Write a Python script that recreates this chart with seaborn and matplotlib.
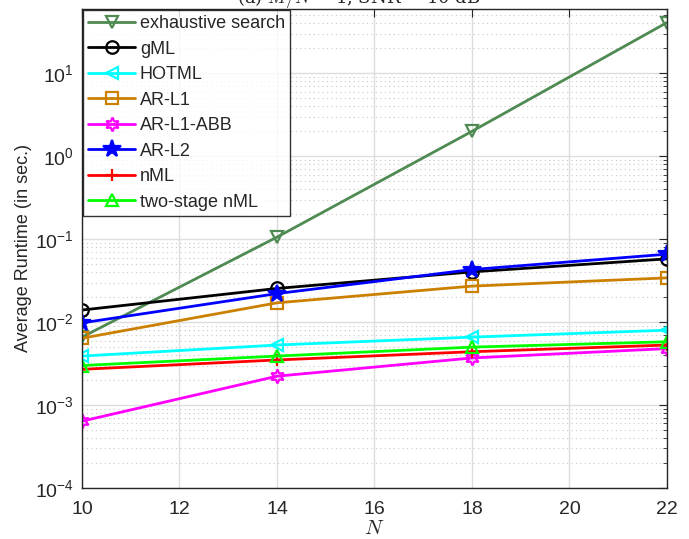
import numpy as np
import pandas as pd
import matplotlib
matplotlib.use('Agg')
import matplotlib.pyplot as plt
import seaborn as sns
from matplotlib.ticker import LogLocator, NullFormatter

n_values = [10, 14, 18, 22]

exhaustive = [0.0066, 0.106, 2.0, 41.0]
gml = [0.0140, 0.0255, 0.0404, 0.058]
hotml = [0.0039, 0.0053, 0.0066, 0.0080]
ar_l1 = [0.0064, 0.0171, 0.0272, 0.0342]
ar_l1_abb = [0.00064, 0.00223, 0.0037, 0.0048]
ar_l2 = [0.0098, 0.0221, 0.0431, 0.066]
nml = [0.0027, 0.0035, 0.0044, 0.0053]
two_stage = [0.0030, 0.0039, 0.0050, 0.0058]

series = [
    ('exhaustive search', exhaustive, '#4e8a52', 'v'),
    ('gML', gml, 'black', 'o'),
    ('HOTML', hotml, '#00ffff', '<'),
    ('AR-L1', ar_l1, '#cc8000', 's'),
    ('AR-L1-ABB', ar_l1_abb, '#ff00ff', (6, 1, 0)),
    ('AR-L2', ar_l2, '#0000ff', '*'),
    ('nML', nml, '#ff0000', '+'),
    ('two-stage nML', two_stage, '#00ff00', '^'),
]

sns.set_style('white')
plt.rcParams['font.family'] = ['Liberation Sans', 'DejaVu Sans']
plt.rcParams['mathtext.fontset'] = 'cm'

fig = plt.figure(figsize=(6.89, 5.39), dpi=100)
ax = fig.add_axes([0.119, 0.0946, 0.849, 0.889])

for name, vals, col, mk in series:
    filled = mk == '*'
    ms = 13 if mk == '*' else (10 if mk == (6, 1, 0) else 9)
    sns.lineplot(x=n_values, y=vals, ax=ax, label=name, color=col,
                 marker=mk, markersize=ms, linewidth=2,
                 markerfacecolor=col if filled else 'none',
                 markeredgecolor=col, markeredgewidth=1.6)

ax.set_yscale('log')
ax.set_xlim(10, 22)
ax.set_ylim(1e-4, 60)
ax.set_xticks([10, 12, 14, 16, 18, 20, 22])
ax.set_yticks([1e-4, 1e-3, 1e-2, 1e-1, 1e0, 1e1])
ax.yaxis.set_minor_locator(LogLocator(base=10, subs=np.arange(2, 10), numticks=20))
ax.yaxis.set_minor_formatter(NullFormatter())

ax.grid(True, which='major', axis='both', color='#dddddd', linewidth=1, linestyle='-')
ax.grid(True, which='minor', axis='y', color='#c8c8c8', linewidth=0.8, linestyle=(0, (1, 3)))
ax.set_axisbelow(True)

ax.tick_params(which='both', direction='in', top=True, right=True, labelsize=14, colors='#262626')
ax.tick_params(which='major', length=6)
ax.tick_params(which='minor', length=3)
ax.tick_params(axis='x', pad=9)
ax.tick_params(axis='y', pad=6)
for sp in ax.spines.values():
    sp.set_color('#262626')
    sp.set_linewidth(1)

ax.set_xlabel('$N$', fontsize=15, labelpad=1)
ax.set_ylabel('Average Runtime (in sec.)', fontsize=13, labelpad=2, color='#262626')

leg = ax.legend(loc='upper left', fontsize=13, frameon=True, fancybox=False,
                edgecolor='black', handlelength=2.6, borderaxespad=0.05,
                labelspacing=0.47, handletextpad=0.25, borderpad=0.3)
leg.get_frame().set_linewidth(1)

fig.text(0.52, 1.004, '(a) $M/N$ = 1, SNR = 10 dB', ha='center', va='center', fontsize=13,
         family='DejaVu Serif')

fig.savefig('out.png', dpi=100)
